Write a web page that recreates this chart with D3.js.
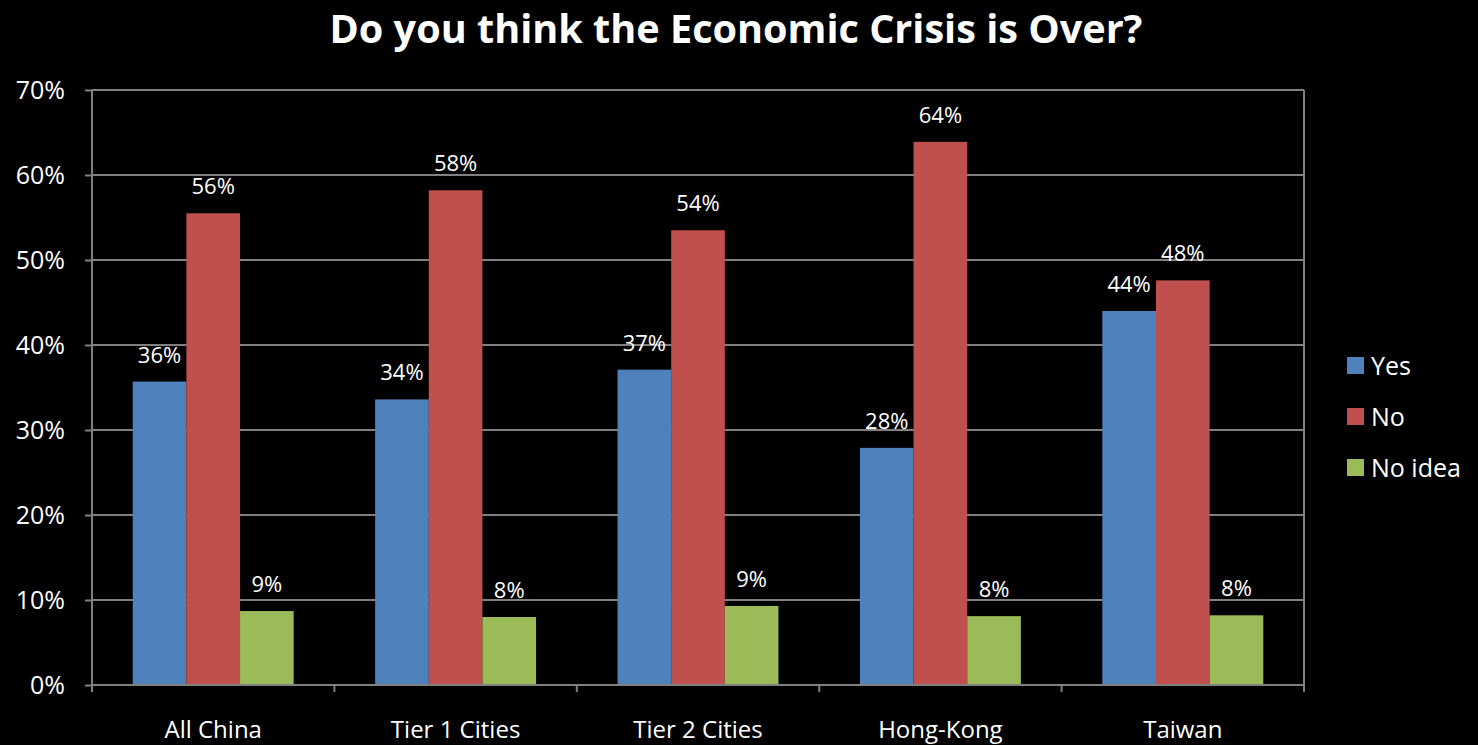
<!DOCTYPE html>
<html>
<head>
<meta charset="utf-8">
<script src="https://cdn.jsdelivr.net/npm/d3@7"></script>
<style>
  html, body { margin: 0; padding: 0; background: #000; }
  svg { display: block; }
  text { font-family: "Open Sans", "DejaVu Sans", sans-serif; fill: #fff; }
</style>
</head>
<body>
<svg id="chart" width="1478" height="745"></svg>
<script>
// Survey answers by region (share of respondents)
const categories = ["All China", "Tier 1 Cities", "Tier 2 Cities", "Hong-Kong", "Taiwan"];
const seriesNames = ["Yes", "No", "No idea"];
const yesValues = [0.357, 0.336, 0.371, 0.279, 0.440];
const noValues = [0.555, 0.582, 0.535, 0.639, 0.476];
const noIdeaValues = [0.087, 0.080, 0.093, 0.081, 0.082];
const yTicks = [0, 0.1, 0.2, 0.3, 0.4, 0.5, 0.6, 0.7];
const colors = ["#4F81BD", "#C0504D", "#9BBB59"];

const seriesValues = [yesValues, noValues, noIdeaValues];
const rows = categories.map((c, i) => ({
  category: c,
  values: seriesNames.map((s, j) => ({ series: s, value: seriesValues[j][i] }))
}));

const svg = d3.select("#chart");
const margin = { left: 92, right: 174, top: 90, bottom: 60 };
const W = 1478, H = 745;
const innerW = W - margin.left - margin.right;
const innerH = H - margin.top - margin.bottom;

const g = svg.append("g").attr("transform", `translate(${margin.left},${margin.top})`);

const x0 = d3.scaleBand().domain(categories).range([0, innerW])
  .paddingInner(0.336).paddingOuter(0.168);
const x1 = d3.scaleBand().domain(seriesNames).range([0, x0.bandwidth()]);
const y = d3.scaleLinear().domain([0, 0.7]).range([innerH, 0]);
const pct = d3.format(".0%");

// Title
svg.append("text")
  .attr("x", 736).attr("y", 43)
  .attr("text-anchor", "middle")
  .style("font-size", "39px").style("font-weight", "bold")
  .attr("textLength", 813).attr("lengthAdjust", "spacingAndGlyphs")
  .text("Do you think the Economic Crisis is Over?");

// Horizontal gridlines
g.append("g").selectAll("line").data(yTicks.filter(t => t > 0)).join("line")
  .attr("x1", 0).attr("x2", innerW)
  .attr("y1", d => y(d)).attr("y2", d => y(d))
  .attr("stroke", "#808080").attr("stroke-width", 2);

// Right edge of plot area
g.append("line").attr("x1", innerW).attr("x2", innerW).attr("y1", 0).attr("y2", innerH)
  .attr("stroke", "#808080").attr("stroke-width", 2);

// Bars
const groups = g.append("g").selectAll("g").data(rows).join("g")
  .attr("transform", d => `translate(${x0(d.category)},0)`);

groups.selectAll("rect").data(d => d.values).join("rect")
  .attr("x", d => x1(d.series))
  .attr("width", x1.bandwidth())
  .attr("y", d => y(d.value))
  .attr("height", d => innerH - y(d.value))
  .attr("fill", (d, i) => colors[i]);

groups.selectAll("text.val").data(d => d.values).join("text")
  .attr("class", "val")
  .attr("x", d => x1(d.series) + x1.bandwidth() / 2)
  .attr("y", d => y(d.value) - 19)
  .attr("text-anchor", "middle")
  .style("font-size", "22px")
  .text(d => pct(d.value));

// Y axis
const yAxis = g.append("g").call(
  d3.axisLeft(y).tickValues(yTicks).tickFormat(pct).tickSize(7).tickPadding(20)
);
yAxis.select(".domain").attr("stroke", "#808080").attr("stroke-width", 2).attr("d", `M0,0V${innerH}`);
yAxis.selectAll(".tick line").attr("stroke", "#808080").attr("stroke-width", 2);
yAxis.selectAll(".tick text").style("font-size", "25px").attr("fill", "#fff")
  .style("font-family", '"Open Sans", sans-serif');

// X axis with ticks at category boundaries
const xAxisG = g.append("g").attr("transform", `translate(0,${innerH})`);
xAxisG.append("line").attr("x1", 0).attr("x2", innerW)
  .attr("stroke", "#808080").attr("stroke-width", 2);
const step = x0.step();
const bounds = d3.range(categories.length + 1).map(i => i * step);
xAxisG.selectAll("line.tk").data(bounds).join("line").attr("class", "tk")
  .attr("x1", d => d).attr("x2", d => d).attr("y1", 0).attr("y2", 7)
  .attr("stroke", "#808080").attr("stroke-width", 2);
xAxisG.selectAll("text").data(categories).join("text")
  .attr("x", d => x0(d) + x0.bandwidth() / 2)
  .attr("y", 53)
  .attr("text-anchor", "middle")
  .style("font-size", "24px")
  .text(d => d);

// Legend
const legend = svg.append("g").attr("transform", "translate(1347,357)");
const li = legend.selectAll("g").data(seriesNames).join("g")
  .attr("transform", (d, i) => `translate(0,${i * 51})`);
li.append("rect").attr("width", 17).attr("height", 17).attr("fill", (d, i) => colors[i]);
li.append("text").attr("x", 24).attr("y", 18).style("font-size", "25px").text(d => d);
</script>
</body>
</html>
